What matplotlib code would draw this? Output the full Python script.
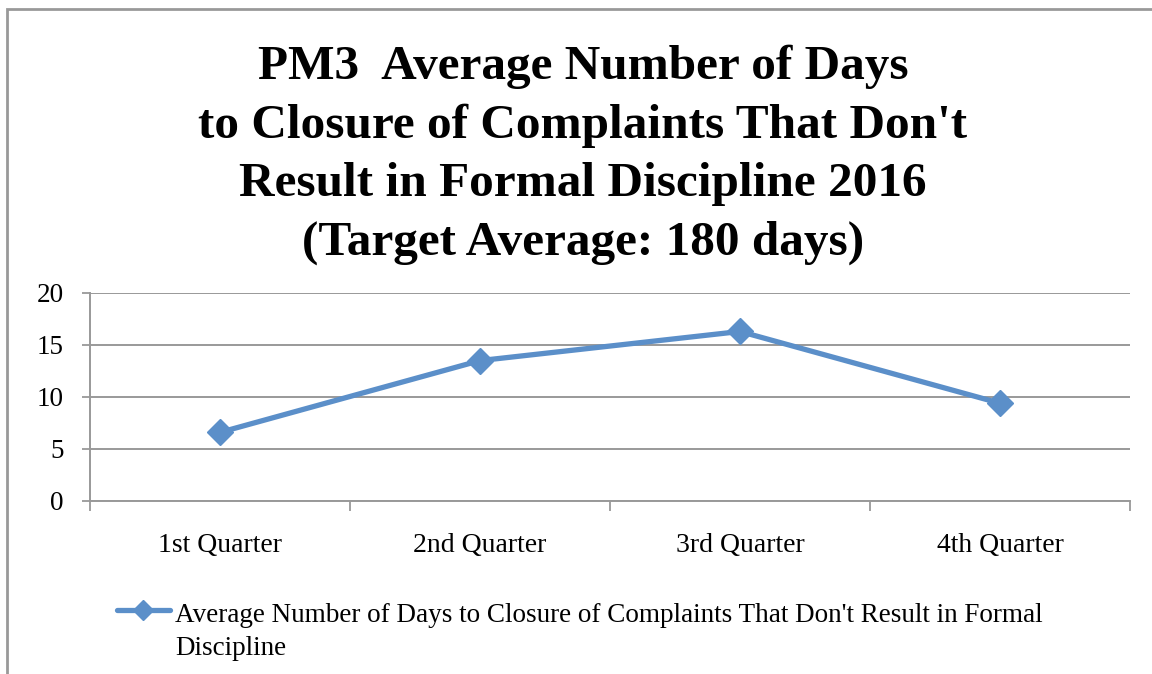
import matplotlib
matplotlib.use("Agg")
import matplotlib.pyplot as plt
from matplotlib.lines import Line2D
from matplotlib.patches import Rectangle

categories = ["1st Quarter", "2nd Quarter", "3rd Quarter", "4th Quarter"]
values = [6.6, 13.5, 16.3, 9.4]
yticks = [0, 5, 10, 15, 20]
title = "PM3  Average Number of Days\nto Closure of Complaints That Don't\nResult in Formal Discipline 2016\n(Target Average: 180 days)"
series_name = "Average Number of Days to Closure of Complaints That Don't Result in Formal\nDiscipline"

W, H = 1152, 674
fig = plt.figure(figsize=(W / 100, H / 100), dpi=100)
font = "Liberation Serif"
line_color = "#5B8FC9"
grid_color = "#999999"

# outer chart border (bottom and right edges fall outside the image)
fig.patches.append(Rectangle((7 / W, -0.2), 1.3, 1.2 - 9 / H, transform=fig.transFigure,
                             fill=False, edgecolor=grid_color, linewidth=2.0))

ax = fig.add_axes([90 / W, 1 - 501 / H, 1040 / W, 208 / H])
x = list(range(len(categories)))
ax.plot(x, values, color=line_color, linewidth=3.8, marker="D", markersize=13,
        solid_capstyle="round", zorder=3)
ax.set_xlim(-0.5, len(categories) - 0.5)
ax.set_ylim(0, 20)
ax.set_yticks(yticks)
ax.set_yticklabels([str(v) for v in yticks], fontsize=19.5, family=font)
ax.set_xticks(x)
ax.set_xticklabels(categories, fontsize=20, family=font)
ax.tick_params(axis="x", length=0, pad=23)
ax.tick_params(axis="y", length=6, width=1.3, color=grid_color, pad=13)
# category boundary ticks
ax.set_xticks([i - 0.5 for i in range(len(categories) + 1)], minor=True)
ax.tick_params(axis="x", which="minor", length=7, width=1.3, color=grid_color, direction="out")
ax.grid(axis="y", color=grid_color, linewidth=1.4)
ax.set_axisbelow(True)
for s in ["top", "right"]:
    ax.spines[s].set_visible(False)
for s in ["left", "bottom"]:
    ax.spines[s].set_color(grid_color)
    ax.spines[s].set_linewidth(1.4)

fig.text(583 / W, 1 - 155 / H, title, ha="center", va="center", fontsize=35.5,
         fontweight="bold", family=font, linespacing=1.42)

# legend
ly = 1 - 610 / H
fig.add_artist(Line2D([117 / W, 170 / W], [ly, ly], transform=fig.transFigure,
                      color=line_color, linewidth=3.8, solid_capstyle="round"))
fig.add_artist(Line2D([143 / W], [ly], transform=fig.transFigure,
                      color=line_color, marker="D", markersize=10, linestyle="none"))
fig.text(175 / W, 1 - 603 / H, series_name, ha="left", va="top", fontsize=19.5,
         family=font, linespacing=1.42)

fig.savefig("out.png", dpi=100)
